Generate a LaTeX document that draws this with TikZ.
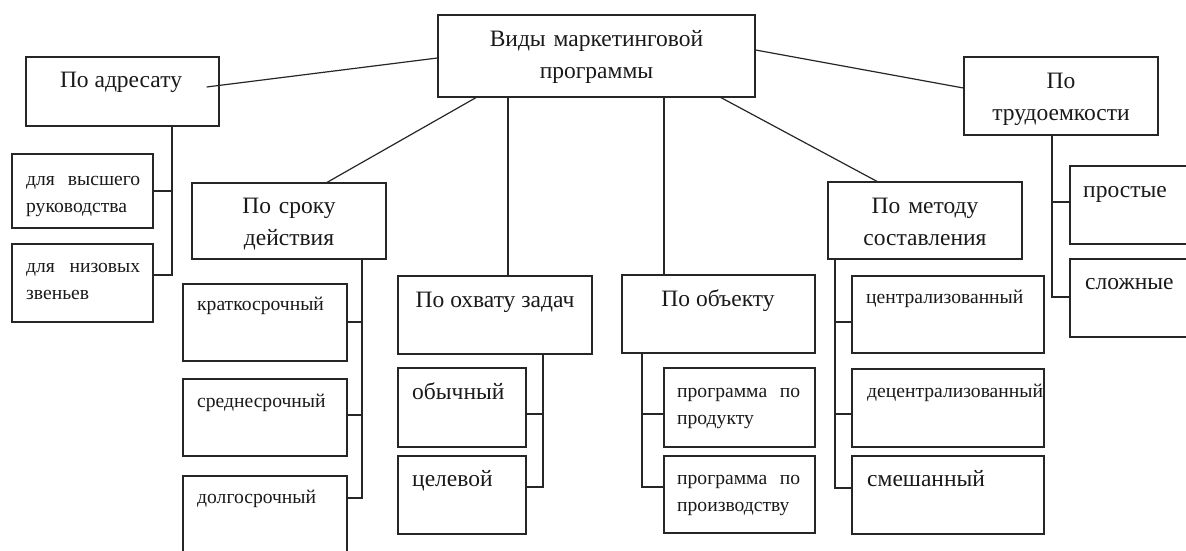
\documentclass[tikz,border=0pt]{standalone}
\usepackage{fontspec}
\setmainfont{Liberation Serif}
\usetikzlibrary{calc}
\begin{document}
\begin{tikzpicture}[x=1pt,y=-1pt,
  box/.style={draw=black!85,line width=1.2pt,rectangle,inner sep=0pt},
  conn/.style={draw=black!85,line width=1.2pt},
  big/.style={font=\fontsize{23.5}{32}\selectfont,text=black!90,inner sep=0pt},
  small/.style={font=\fontsize{19.6}{27}\selectfont,text=black!90,inner sep=0pt}]
\useasboundingbox (0,0) rectangle (1186,550);
\clip (0,0) rectangle (1186,550);
% boxes
\node[box,minimum width=317pt,minimum height=82pt] (root) at (596.5,56) {};
\node[box,minimum width=193pt,minimum height=69pt] (addr) at (122.5,91.5) {};
\node[box,minimum width=141pt,minimum height=74pt] (vys) at (82.5,191) {};
\node[box,minimum width=141pt,minimum height=78pt] (niz) at (82.5,283) {};
\node[box,minimum width=194pt,minimum height=76pt] (srok) at (289,221) {};
\node[box,minimum width=164pt,minimum height=77pt] (krat) at (265,322.5) {};
\node[box,minimum width=164pt,minimum height=77pt] (sred) at (265,417.5) {};
\node[box,minimum width=164pt,minimum height=94pt] (dolg) at (265,523) {};
\node[box,minimum width=194pt,minimum height=78pt] (ohv) at (495,315) {};
\node[box,minimum width=128pt,minimum height=79pt] (obych) at (462,407.5) {};
\node[box,minimum width=128pt,minimum height=78pt] (cel) at (462,495) {};
\node[box,minimum width=193pt,minimum height=78pt] (obj) at (718.5,314) {};
\node[box,minimum width=151pt,minimum height=79pt] (prod) at (739.5,407.5) {};
\node[box,minimum width=151pt,minimum height=77pt] (proizv) at (739.5,494.5) {};
\node[box,minimum width=194pt,minimum height=77pt] (metod) at (925,220.5) {};
\node[box,minimum width=192pt,minimum height=77pt] (centr) at (948,314.5) {};
\node[box,minimum width=192pt,minimum height=78pt] (decentr) at (948,408) {};
\node[box,minimum width=192pt,minimum height=78pt] (smesh) at (948,495) {};
\node[box,minimum width=194pt,minimum height=78pt] (trud) at (1061,96) {};
\node[box,minimum width=130pt,minimum height=78pt] (prost) at (1135,205) {};
\node[box,minimum width=130pt,minimum height=78pt] (slozh) at (1135,298) {};
% top connectors
\draw[conn] ([yshift=-2pt]root.west) -- ([xshift=-13pt,yshift=4.5pt]addr.east);
\draw[conn] ([xshift=-120.5pt]root.south) -- ([xshift=38pt]srok.north);
\draw[conn] ([xshift=13pt]ohv.north |- root.south) -- ([xshift=13pt]ohv.north);
\draw[conn] ([xshift=-54.5pt]obj.north |- root.south) -- ([xshift=-54.5pt]obj.north);
\draw[conn] ([xshift=124.5pt]root.south) -- ([xshift=-48pt]metod.north);
\draw[conn] ([yshift=6pt]root.east) -- ([yshift=8pt]trud.west);
% trunks
\draw[conn] ([xshift=49.5pt]addr.south) |- (vys.east);
\draw[conn] ([xshift=49.5pt]addr.south) |- ([yshift=8pt]niz.east);
\draw[conn] ([xshift=73pt]srok.south) |- ([yshift=0.5pt]krat.east);
\draw[conn] ([xshift=73pt]srok.south) |- ([yshift=2.5pt]sred.east);
\draw[conn] ([xshift=73pt]srok.south) |- ([yshift=25pt]dolg.east);
\draw[conn] ([xshift=48pt]ohv.south) |- ([yshift=-6.5pt]obych.east);
\draw[conn] ([xshift=48pt]ohv.south) |- ([yshift=8pt]cel.east);
\draw[conn] ([xshift=-76.5pt]obj.south) |- ([yshift=-6.5pt]prod.west);
\draw[conn] ([xshift=-76.5pt]obj.south) |- ([yshift=7.5pt]proizv.west);
\draw[conn] ([xshift=-90pt]metod.south) |- ([yshift=-7.5pt]centr.west);
\draw[conn] ([xshift=-90pt]metod.south) |- ([yshift=-6pt]decentr.west);
\draw[conn] ([xshift=-90pt]metod.south) |- ([yshift=7pt]smesh.west);
\draw[conn] ([xshift=-9pt]trud.south) |- ([yshift=3pt]prost.west);
\draw[conn] ([xshift=-9pt]trud.south) |- ([yshift=1pt]slozh.west);
% texts
\node[big,anchor=base,text width=300pt,align=center] (t-root) at (596.5,46) {Виды маркетинговой\\программы};
\node[big,anchor=base] (t-addr) at (121,87) {По адресату};
\node[big,anchor=base,text width=190pt,align=center] (t-srok) at (289,213) {По сроку\\действия};
\node[big,anchor=base] (t-ohv) at (495,307) {По охвату задач};
\node[big,anchor=base] (t-obj) at (718,306) {По объекту};
\node[big,anchor=base,text width=190pt,align=center] (t-metod) at (925,213) {По методу\\составления};
\node[big,anchor=base,text width=190pt,align=center] (t-trud) at (1061,88) {По\\трудоемкости};
\node[small,anchor=base west,text width=114pt,align=left] (t-vys) at (26,185) {для\hfill высшего\\руководства};
\node[small,anchor=base west,text width=114pt,align=left] (t-niz) at (26,272) {для\hfill низовых\\звеньев};
\node[small,anchor=base west] (t-krat) at (197,310) {краткосрочный};
\node[small,anchor=base west] (t-sred) at (197,407) {среднесрочный};
\node[small,anchor=base west] (t-dolg) at (197,503) {долгосрочный};
\node[big,anchor=base west] (t-obych) at (412,399) {обычный};
\node[big,anchor=base west] (t-cel) at (412,486) {целевой};
\node[small,anchor=base west,text width=123pt,align=left] (t-prod) at (677,397) {программа\hfill по\\продукту};
\node[small,anchor=base west,text width=123pt,align=left] (t-proizv) at (677,484) {программа\hfill по\\производству};
\node[small,anchor=base west] (t-centr) at (866,303) {централизованный};
\node[small,anchor=base west] (t-decentr) at (867,397) {децентрализованный};
\node[big,anchor=base west] (t-smesh) at (867,486) {смешанный};
\node[big,anchor=base west] (t-prost) at (1083,197) {простые};
\node[big,anchor=base west] (t-slozh) at (1085,289) {сложные};
\end{tikzpicture}
\end{document}
